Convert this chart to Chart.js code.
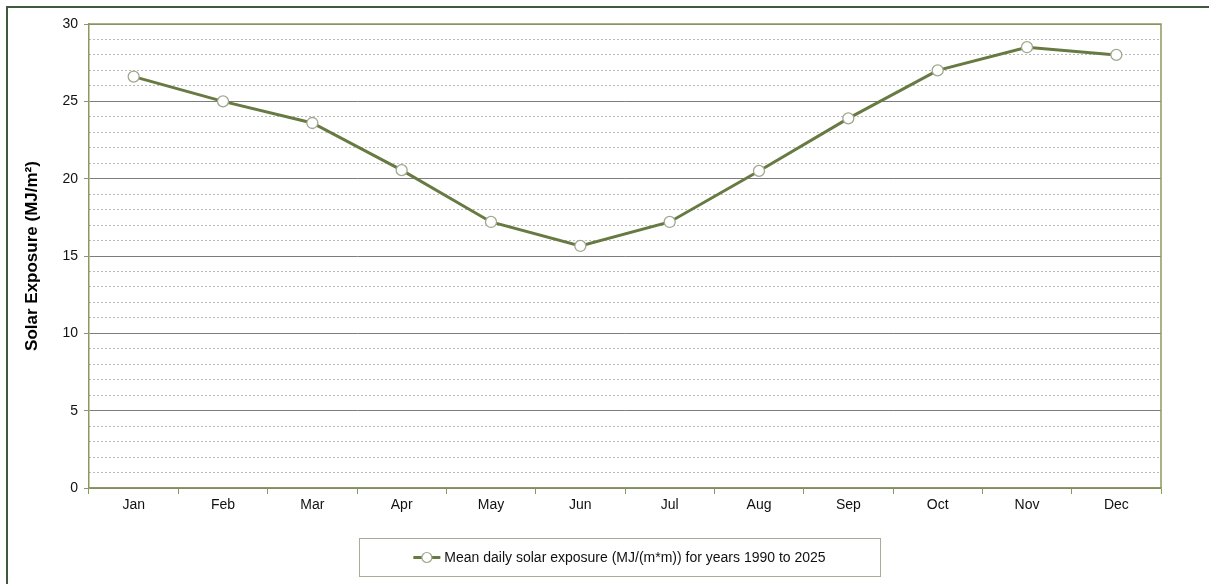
<!DOCTYPE html>
<html>
<head>
<meta charset="utf-8">
<script src="https://cdn.jsdelivr.net/npm/chart.js@4.4.1/dist/chart.umd.min.js"></script>
<style>
  html, body { margin: 0; padding: 0; background: #ffffff; overflow: hidden; }
  #wrap { position: relative; width: 1209px; height: 584px; overflow: hidden; }
  #frame { position: absolute; left: 6px; top: 6px; width: 1300px; height: 700px;
           border: 2px solid #3e5a3c; box-sizing: border-box; }
  #chart { position: absolute; left: 0; top: 0; }
</style>
</head>
<body>
<div id="wrap">
  <div id="frame"></div>
  <canvas id="chart" width="1209" height="584"></canvas>
</div>
<script>
// Monthly mean daily solar exposure
const months = ['Jan', 'Feb', 'Mar', 'Apr', 'May', 'Jun', 'Jul', 'Aug', 'Sep', 'Oct', 'Nov', 'Dec'];
const exposure = [26.6, 25.0, 23.6, 20.55, 17.2, 15.65, 17.2, 20.5, 23.9, 27.0, 28.5, 28.0];
const majorTicks = [0, 5, 10, 15, 20, 25, 30];
const seriesLabel = 'Mean daily solar exposure (MJ/(m*m)) for years 1990 to 2025';
const axisTitle = 'Solar Exposure (MJ/m\u00B2)';

const FONT = '"Liberation Sans", Arial, sans-serif';
const OLIVE = '#8a9a5b';
const LINE = '#667a42';
const POINT_EDGE = '#a0a88e';

// Top and right edges of the plot area plus the boxed legend below the axis
const decorations = {
  id: 'decorations',
  afterDraw(chart) {
    const { ctx, chartArea: a } = chart;
    ctx.save();
    ctx.strokeStyle = OLIVE;
    ctx.lineWidth = 1.5;
    ctx.beginPath();
    ctx.moveTo(a.left, a.top);
    ctx.lineTo(a.right, a.top);
    ctx.lineTo(a.right, a.bottom);
    ctx.stroke();

    // legend
    const ds = chart.data.datasets[0];
    ctx.font = '14px ' + FONT;
    const textW = ctx.measureText(ds.label).width;
    const markerW = 27, gap = 4;
    const contentW = markerW + gap + textW;
    const boxW = 521, boxH = 38;
    const cx = 619.5;
    const boxX = Math.round(cx - boxW / 2) + 0.5;
    const boxY = 538.5;
    ctx.strokeStyle = '#a6ad96';
    ctx.lineWidth = 1;
    ctx.strokeRect(boxX, boxY, boxW, boxH);

    const midY = boxY + boxH / 2;
    const startX = cx - contentW / 2;
    ctx.strokeStyle = ds.borderColor;
    ctx.lineWidth = 3;
    ctx.beginPath();
    ctx.moveTo(startX, midY);
    ctx.lineTo(startX + markerW, midY);
    ctx.stroke();
    ctx.beginPath();
    ctx.arc(startX + markerW / 2, midY, 5, 0, Math.PI * 2);
    ctx.fillStyle = ds.pointBackgroundColor;
    ctx.fill();
    ctx.lineWidth = 1.2;
    ctx.strokeStyle = ds.pointBorderColor;
    ctx.stroke();

    ctx.fillStyle = '#111111';
    ctx.textBaseline = 'middle';
    ctx.textAlign = 'left';
    ctx.fillText(ds.label, startX + markerW + gap, midY + 0.5);
    ctx.restore();
  }
};

new Chart(document.getElementById('chart'), {
  type: 'line',
  data: {
    labels: months,
    datasets: [{
      label: seriesLabel,
      data: exposure,
      borderColor: LINE,
      borderWidth: 3,
      pointRadius: 5.5,
      pointHoverRadius: 5.5,
      pointBackgroundColor: '#ffffff',
      pointBorderColor: POINT_EDGE,
      pointBorderWidth: 1.3,
      tension: 0,
      yAxisID: 'y'
    }]
  },
  options: {
    responsive: false,
    animation: false,
    devicePixelRatio: 1,
    layout: { padding: { left: 0, right: 48, top: 24, bottom: 66 } },
    plugins: { legend: { display: false }, tooltip: { enabled: false } },
    scales: {
      x: {
        type: 'category',
        offset: true,
        grid: {
          offset: true,
          drawOnChartArea: false,
          drawTicks: true,
          tickLength: 6,
          color: OLIVE,
          lineWidth: 1
        },
        border: { display: true, color: OLIVE, width: 1.5 },
        ticks: {
          color: '#111111',
          font: { family: FONT, size: 14 },
          padding: 3,
          maxRotation: 0,
          autoSkip: false
        },
        afterFit(s) { s.height = 30; }
      },
      yMinor: {
        type: 'linear',
        position: 'left',
        min: 0,
        max: 30,
        ticks: { display: false, stepSize: 1 },
        grid: {
          drawTicks: false,
          color: (c) => (c.tick && c.tick.value % 5 === 0) ? 'rgba(0,0,0,0)' : '#b9b9b9',
          lineWidth: 1
        },
        border: { display: false, dash: [2, 2] },
        afterFit(s) { s.width = 0; }
      },
      y: {
        type: 'linear',
        position: 'left',
        min: 0,
        max: 30,
        afterBuildTicks(s) { s.ticks = majorTicks.map(v => ({ value: v })); },
        ticks: {
          color: '#111111',
          font: { family: FONT, size: 14 },
          padding: 6
        },
        grid: {
          drawTicks: true,
          tickLength: 5,
          color: '#7c7c7c',
          tickColor: '#8c9478',
          lineWidth: 1
        },
        border: { display: true, color: OLIVE, width: 1.5 },
        title: {
          display: true,
          text: axisTitle,
          color: '#000000',
          font: { family: FONT, size: 17, weight: 'bold' },
          padding: { top: 22, bottom: 0 }
        },
        afterFit(s) { s.width = 89; }
      }
    }
  },
  plugins: [decorations]
});
</script>
</body>
</html>
